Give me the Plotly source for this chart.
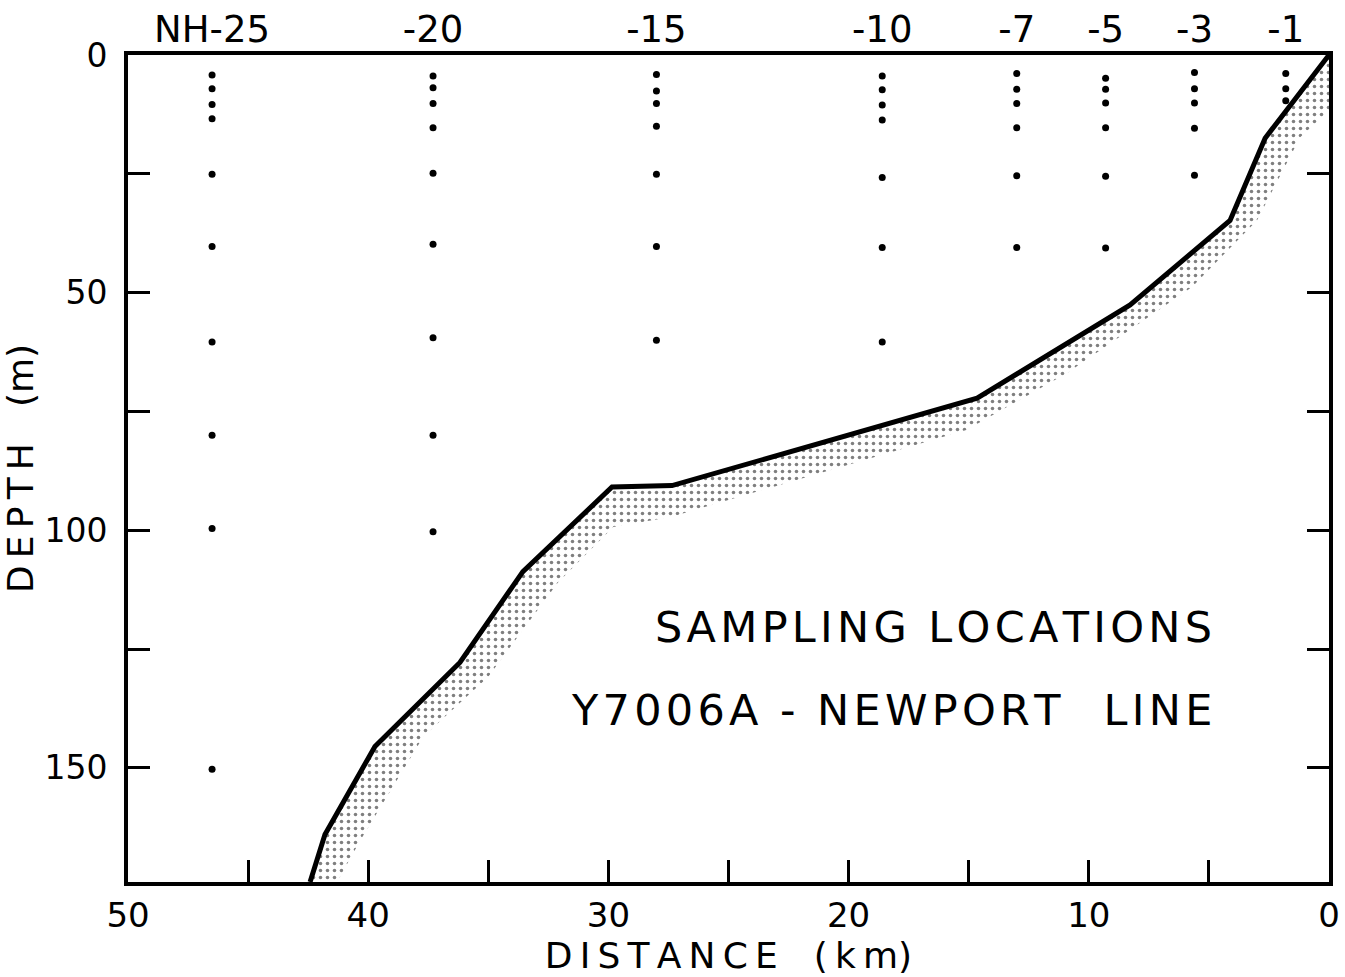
import plotly.graph_objects as go

# ---- data ----
# bottom profile (solid line): distance offshore (km), depth (m)
profile_km = [0.0, 2.66, 4.12, 8.28, 14.65, 27.35, 29.85, 33.56, 36.18, 39.72, 41.80, 42.42]
profile_m = [0.0, 17.5, 34.8, 52.6, 72.2, 90.6, 90.9, 108.7, 127.8, 145.5, 164.0, 174.0]

# lower edge of the stippled (sediment) band
band_km = [0.0, 1.2, 3.0, 5.7, 10.9, 15.1, 27.4, 29.8, 32.1, 35.0, 37.7, 40.3, 41.3]
band_m = [11.7, 17.3, 34.8, 48.8, 66.9, 78.9, 97.2, 99.3, 111.0, 130.8, 143.4, 165.0, 174.0]

# sampling stations
station_labels = ["NH-25", "-20", "-15", "-10", "-7", "-5", "-3", "-1"]
station_km = [46.5, 37.3, 28.0, 18.6, 13.0, 9.3, 5.6, 1.8]
station_depths = [
    [4.2, 7.1, 10.4, 13.4, 25.1, 40.3, 60.4, 80.0, 99.6, 150.3],
    [4.4, 6.9, 10.2, 15.3, 24.9, 39.8, 59.5, 80.0, 100.3],
    [4.1, 7.6, 10.2, 15.0, 25.1, 40.3, 60.0],
    [4.4, 7.3, 10.5, 13.7, 25.8, 40.5, 60.4],
    [3.9, 7.2, 10.2, 15.3, 25.4, 40.5],
    [4.9, 7.2, 10.1, 15.3, 25.5, 40.6],
    [3.7, 7.1, 10.1, 15.4, 25.3],
    [3.9, 7.1, 9.6],
]

x_ticks = [50, 45, 40, 35, 30, 25, 20, 15, 10, 5, 0]
x_ticktext = ["50", "", "40", "", "30", "", "20", "", "10", "", "0"]
y_ticks = [0, 25, 50, 75, 100, 125, 150]
y_ticktext = ["0", "", "50", "", "100", "", "150"]

FONT = "DejaVu Sans"

fig = go.Figure()

# stippled band polygon: profile then band edge reversed
poly_x = profile_km + band_km[::-1]
poly_y = profile_m + band_m[::-1]
fig.add_trace(go.Scatter(
    x=poly_x, y=poly_y, mode="lines", fill="toself",
    line=dict(width=0, color="rgba(0,0,0,0)"),
    fillcolor="white",
    fillpattern=dict(shape=".", fgcolor="black", bgcolor="white", size=7, solidity=0.2),
    hoverinfo="skip",
))

# bottom profile line
fig.add_trace(go.Scatter(
    x=profile_km, y=profile_m, mode="lines",
    line=dict(color="black", width=5),
    hoverinfo="skip",
))

# station sample dots (on top axis scale)
dot_x, dot_y = [], []
for km, depths in zip(station_km, station_depths):
    for d in depths:
        dot_x.append(km)
        dot_y.append(d)
fig.add_trace(go.Scatter(
    x=dot_x, y=dot_y, mode="markers", xaxis="x2",
    marker=dict(color="black", size=7),
    hoverinfo="skip",
))

ts = "\u2009"
hs = "\u200a"
x_title = ts.join("DISTANCE") + "\u2003" + "(" + ts + "k" + ts + "m)"
y_title = ts.join("DEPTH") + "\u2003" + "(m)"

def spaced(s):
    return hs.join(s).replace(hs + " " + hs, "\u2002")

fig.add_annotation(
    x=4.8, y=120.3, xref="x", yref="y", xanchor="right", yanchor="middle",
    text=spaced("SAMPLING LOCATIONS"), showarrow=False,
    font=dict(family=FONT, size=43, color="black"),
)
fig.add_annotation(
    x=4.8, y=137.8, xref="x", yref="y", xanchor="right", yanchor="middle",
    text=spaced("Y7006A") + "\u2002-\u2002" + spaced("NEWPORT") + "\u2003" + spaced("LINE"),
    showarrow=False,
    font=dict(family=FONT, size=43, color="black"),
)

fig.update_layout(
    width=1345, height=977,
    margin=dict(l=128, r=16, t=55, b=95, autoexpand=False),
    paper_bgcolor="white", plot_bgcolor="white",
    showlegend=False,
    font=dict(family=FONT, color="black"),
    xaxis=dict(
        range=[50, 0], showline=True, linecolor="black", linewidth=4, mirror=True,
        ticks="inside", ticklen=22, tickwidth=3, tickcolor="black",
        tickvals=x_ticks, ticktext=x_ticktext,
        tickfont=dict(family=FONT, size=34, color="black"),
        ticklabelstandoff=0,
        showgrid=False, zeroline=False, automargin=False,
        title=dict(text=x_title, font=dict(family=FONT, size=36, color="black"), standoff=0),
    ),
    xaxis2=dict(
        range=[50, 0], overlaying="x", side="top", anchor="y",
        showline=False, ticks="", showgrid=False, zeroline=False, automargin=False,
        tickvals=station_km, ticktext=station_labels,
        tickfont=dict(family=FONT, size=37, color="black"),
        ticklabelstandoff=5,
    ),
    yaxis=dict(
        range=[174, 0], showline=True, linecolor="black", linewidth=4, mirror="ticks",
        ticks="inside", ticklen=22, tickwidth=3, tickcolor="black",
        tickvals=y_ticks, ticktext=y_ticktext,
        tickfont=dict(family=FONT, size=33, color="black"),
        ticklabelstandoff=10,
        showgrid=False, zeroline=False, automargin=False,
        title=dict(text=y_title, font=dict(family=FONT, size=36, color="black"), standoff=8),
    ),
)

fig.write_html("out.html")
